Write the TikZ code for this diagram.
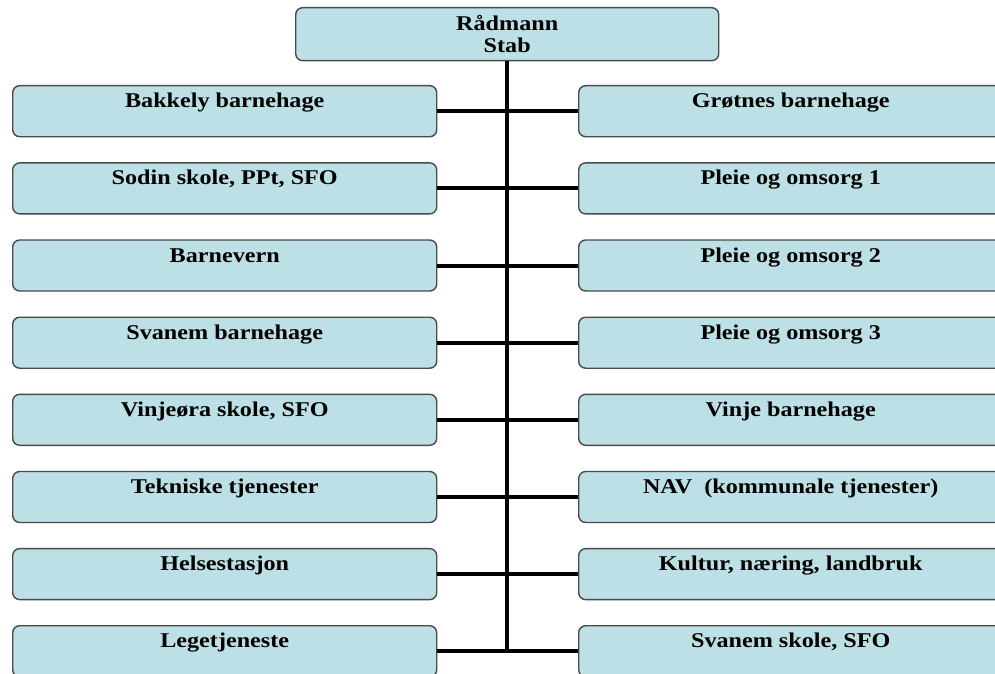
\documentclass[tikz,border=0pt]{standalone}
\usepackage{fontspec}
\setmainfont{Liberation Serif}[FakeStretch=1.15]
\definecolor{boxfill}{HTML}{BCE0E5}
\definecolor{boxline}{HTML}{4A4A4A}
\begin{document}
\begin{tikzpicture}[x=1pt,y=-1pt,
  unit/.style={rectangle, rounded corners=7pt, draw=boxline, line width=1.4pt,
    fill=boxfill, minimum width=424pt, inner sep=0pt,
    text height=22pt, text depth=29pt, anchor=north west,
    font=\fontsize{21}{22}\selectfont\bfseries},
  head/.style={rectangle, rounded corners=7pt, draw=boxline, line width=1.4pt,
    fill=boxfill, minimum width=423pt, minimum height=53pt, inner sep=0pt,
    align=center, anchor=north west,
    font=\fontsize{21}{22}\selectfont\bfseries},
  conn/.style={line width=4pt}]
\useasboundingbox (0,0) rectangle (995,674);
\clip (0,0) rectangle (995,674);
\node[head] (top) at (295,7) {Rådmann\\Stab};
\node[unit] (L1) at (12,85) {Bakkely barnehage};
\node[unit] (L2) at (12,162.2) {Sodin skole, PPt, SFO};
\node[unit] (L3) at (12,239.3) {Barnevern};
\node[unit] (L4) at (12,316.5) {Svanem barnehage};
\node[unit] (L5) at (12,393.6) {Vinjeøra skole, SFO};
\node[unit] (L6) at (12,470.8) {Tekniske tjenester};
\node[unit] (L7) at (12,547.9) {Helsestasjon};
\node[unit] (L8) at (12,625) {Legetjeneste};
\node[unit] (R1) at (578,85) {Grøtnes barnehage};
\node[unit] (R2) at (578,162.2) {Pleie og omsorg 1};
\node[unit] (R3) at (578,239.3) {Pleie og omsorg 2};
\node[unit] (R4) at (578,316.5) {Pleie og omsorg 3};
\node[unit] (R5) at (578,393.6) {Vinje barnehage};
\node[unit] (R6) at (578,470.8) {NAV\ \ (kommunale tjenester)};
\node[unit] (R7) at (578,547.9) {Kultur, næring, landbruk};
\node[unit] (R8) at (578,625) {Svanem skole, SFO};
\draw[conn] (top.south) -- (top.south |- L8.east);
\foreach \i in {1,...,8}{
  \draw[conn] (L\i.east) -- (R\i.west);
}
\end{tikzpicture}
\end{document}
